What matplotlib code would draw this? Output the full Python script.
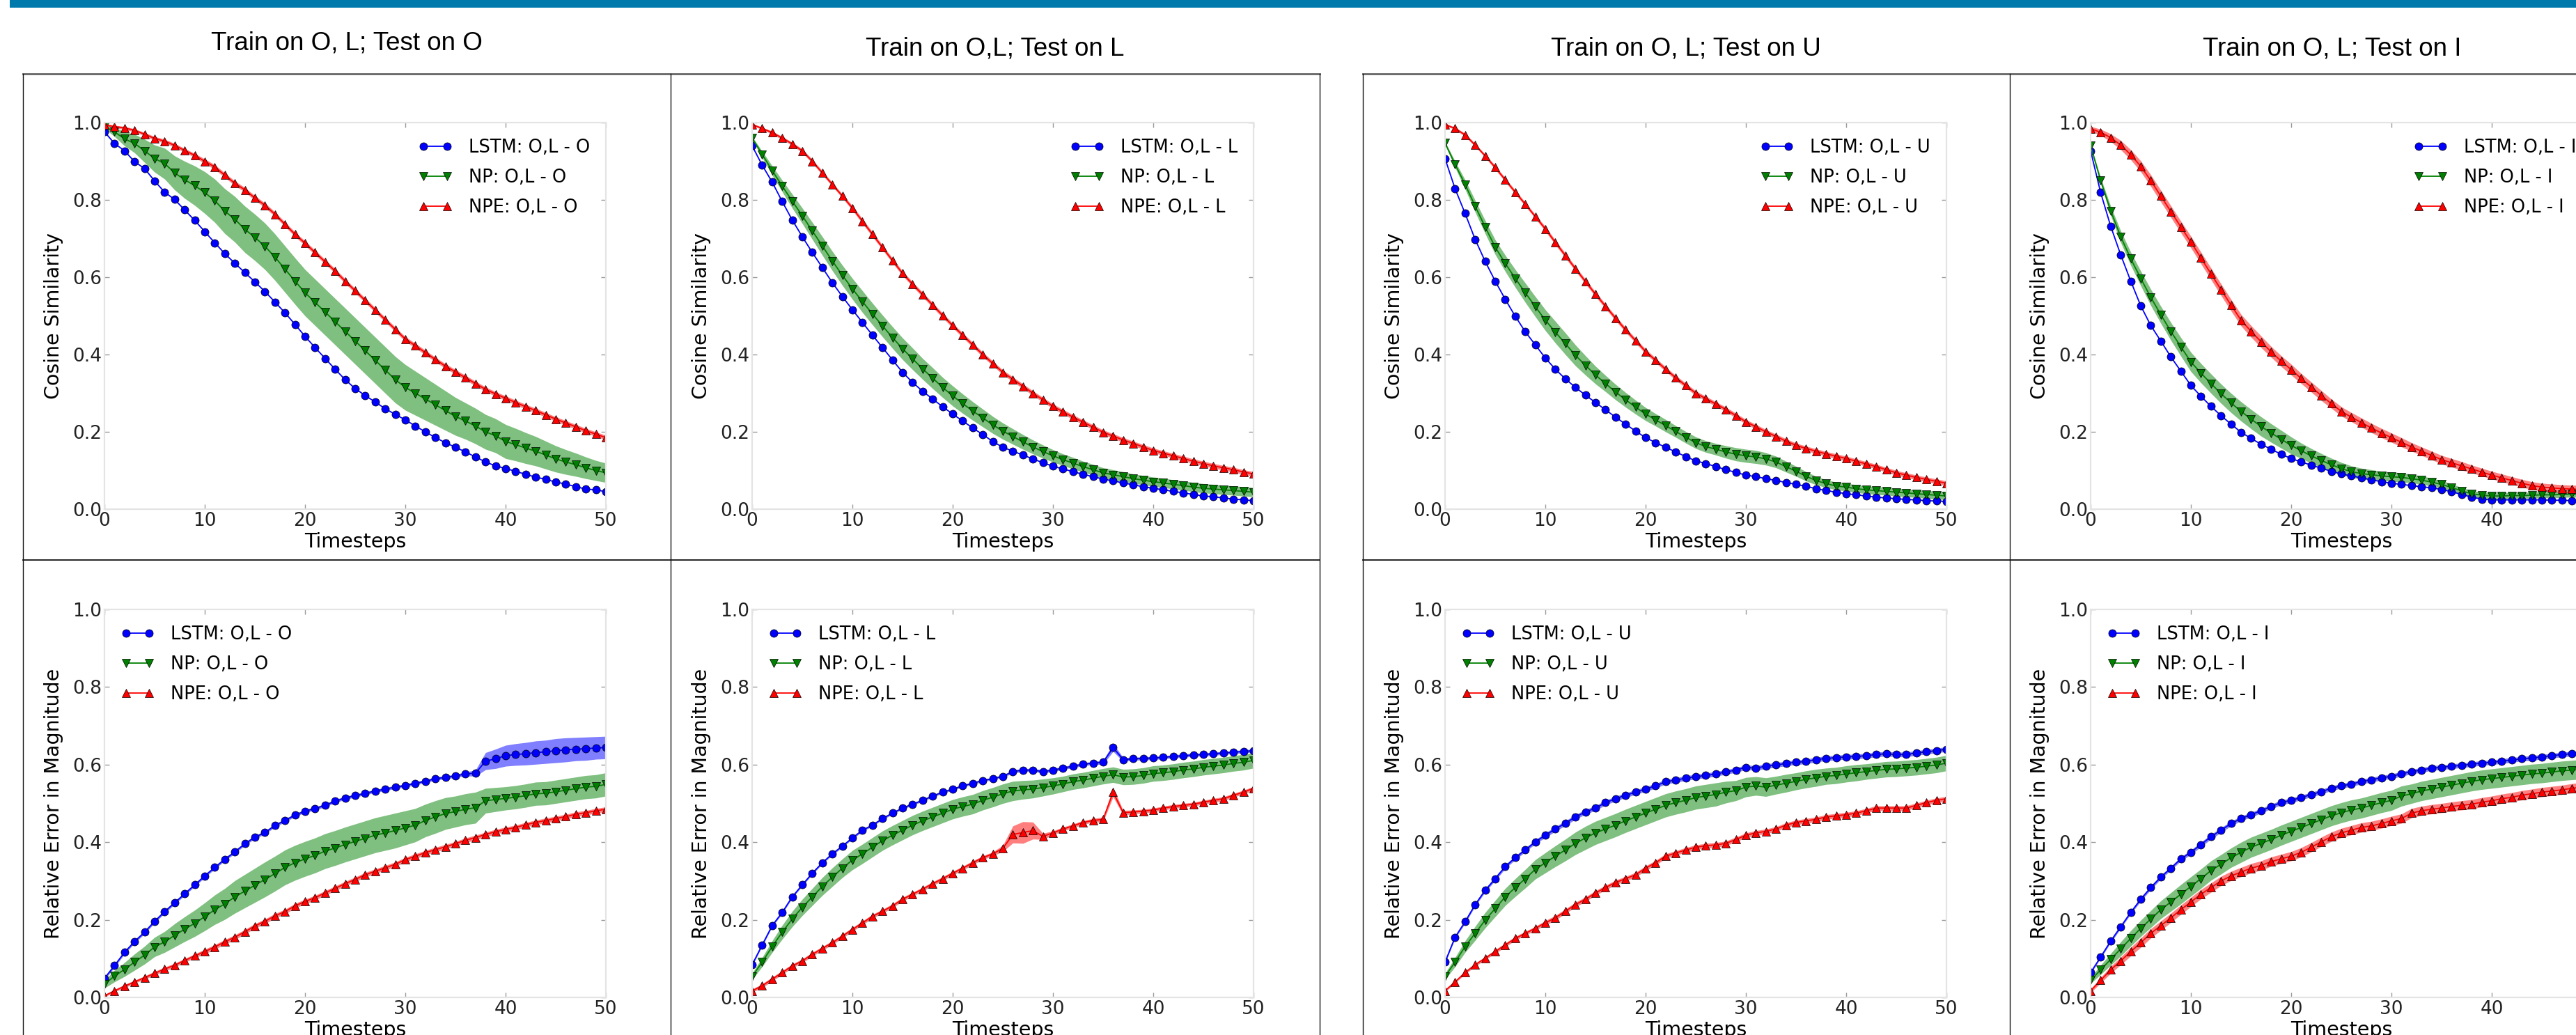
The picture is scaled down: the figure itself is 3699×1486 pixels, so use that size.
import matplotlib
matplotlib.use("Agg")
import matplotlib.pyplot as plt
import numpy as np
from matplotlib.lines import Line2D
from matplotlib.patches import Rectangle

# canvas size in px (dpi 100)
W, H = 3699, 1486

TIMESTEPS = list(range(51))
TEST_SETS = ["O", "L", "U", "I"]
COL_TITLES = [
    "Train on O, L; Test on O",
    "Train on O,L; Test on L",
    "Train on O, L; Test on U",
    "Train on O, L; Test on I",
]
MODELS = ["LSTM", "NP", "NPE"]

# -------------------------
# cosine similarity (top row)
# -------------------------
cos_O_lstm = [.976, .946, .927, .899, .881, .849, .820, .801, .774, .747,
              .718, .689, .661, .636, .612, .588, .563, .536, .508, .478,
              .447, .418, .390, .362, .335, .312, .294, .277, .260, .245,
              .231, .215, .200, .185, .172, .160, .148, .135, .122, .112,
              .105, .098, .090, .083, .077, .070, .065, .058, .052, .050, .045]
cos_O_np = [.990, .976, .958, .946, .927, .907, .894, .870, .852, .837,
            .819, .798, .771, .750, .724, .703, .680, .652, .621, .590,
            .560, .535, .510, .485, .460, .435, .410, .385, .360, .335,
            .315, .300, .285, .270, .255, .240, .228, .215, .200, .190,
            .175, .167, .158, .150, .140, .130, .122, .115, .107, .100, .094]
cos_O_npe = [.994, .990, .986, .980, .970, .959, .952, .941, .928, .915,
             .900, .885, .864, .843, .826, .805, .786, .763, .737, .711,
             .688, .664, .640, .616, .590, .565, .540, .515, .490, .465,
             .440, .423, .405, .387, .370, .355, .340, .325, .310, .298,
             .287, .276, .265, .255, .244, .233, .223, .213, .203, .194, .185]
cos_O_np_err = [.005, .012, .018, .024, .030, .035, .040, .044, .048, .051,
                .054, .056, .058, .059, .060, .060, .060, .060, .060, .060,
                .060, .060, .060, .060, .060, .060, .060, .060, .060, .060,
                .059, .057, .055, .053, .051, .049, .047, .046, .045, .044,
                .044, .042, .040, .038, .036, .034, .032, .030, .028, .026, .025]

cos_L_lstm = [.940, .890, .846, .796, .748, .705, .664, .625, .586, .550,
              .516, .483, .450, .418, .386, .354, .328, .305, .285, .265,
              .246, .228, .210, .193, .175, .160, .150, .140, .130, .120,
              .111, .104, .097, .090, .084, .078, .073, .068, .063, .058,
              .054, .050, .046, .042, .038, .034, .032, .029, .026, .024, .022]
cos_L_np = [.960, .918, .876, .836, .797, .759, .720, .681, .642, .605,
            .570, .537, .505, .474, .444, .415, .389, .363, .339, .315,
            .293, .273, .254, .236, .218, .202, .188, .174, .161, .149,
            .138, .128, .119, .110, .102, .094, .089, .084, .079, .075,
            .071, .068, .064, .061, .057, .054, .052, .050, .048, .046, .044]
cos_L_npe = [.995, .985, .974, .960, .945, .927, .900, .870, .840, .810,
             .779, .745, .711, .677, .643, .610, .582, .555, .528, .501,
             .475, .450, .425, .400, .377, .354, .336, .318, .300, .283,
             .266, .252, .238, .225, .212, .199, .189, .179, .170, .161,
             .152, .145, .138, .131, .124, .118, .112, .107, .102, .096, .091]
cos_L_np_err = [.004, .008, .012, .015, .018, .020, .022, .024, .025, .026,
                .027, .028, .028, .028, .028, .028, .028, .027, .027, .026,
                .026, .025, .024, .023, .022, .021, .020, .019, .018, .017,
                .016, .015, .015, .014, .014, .013, .013, .013, .012, .012,
                .012, .012, .012, .012, .012, .012, .012, .012, .012, .012, .012]

cos_U_lstm = [.907, .829, .765, .698, .641, .590, .543, .499, .459, .425,
              .391, .362, .337, .315, .295, .276, .257, .238, .220, .202,
              .185, .172, .160, .148, .136, .125, .118, .110, .102, .095,
              .088, .084, .079, .074, .069, .064, .059, .053, .048, .044,
              .040, .037, .034, .031, .029, .027, .025, .024, .022, .021, .020]
cos_U_np = [.947, .892, .840, .784, .730, .678, .636, .597, .560, .524,
            .489, .458, .428, .398, .372, .347, .325, .303, .283, .264,
            .246, .231, .216, .201, .186, .172, .162, .155, .148, .142,
            .138, .135, .130, .122, .110, .098, .085, .074, .066, .060,
            .057, .053, .050, .048, .046, .044, .042, .040, .038, .036, .034]
cos_U_npe = [.995, .985, .968, .942, .914, .884, .852, .820, .789, .757,
             .725, .690, .656, .622, .589, .556, .525, .494, .464, .436,
             .408, .385, .362, .340, .320, .300, .286, .272, .258, .242,
             .226, .213, .200, .188, .176, .165, .157, .150, .143, .137,
             .131, .124, .117, .110, .102, .094, .088, .082, .077, .072, .067]
cos_U_np_err = [.004, .008, .012, .015, .017, .019, .021, .023, .025, .026,
                .027, .028, .028, .027, .025, .023, .021, .020, .019, .018,
                .017, .016, .016, .015, .015, .015, .015, .015, .016, .017,
                .017, .017, .016, .015, .014, .013, .012, .011, .010, .010,
                .010, .010, .010, .010, .010, .010, .010, .010, .010, .010, .010]

cos_I_lstm = [.927, .819, .732, .658, .590, .526, .475, .435, .394, .357,
              .320, .292, .266, .242, .220, .199, .183, .168, .155, .142,
              .131, .122, .114, .106, .098, .091, .086, .081, .076, .071,
              .067, .064, .061, .058, .055, .051, .045, .038, .031, .026,
              .024, .024, .024, .024, .024, .024, .023, .023, .022, .022, .022]
cos_I_np = [.940, .850, .772, .705, .648, .597, .548, .503, .460, .420,
            .381, .352, .325, .299, .275, .253, .233, .214, .197, .181,
            .165, .151, .138, .126, .115, .105, .097, .092, .089, .086,
            .084, .082, .079, .075, .070, .064, .056, .047, .040, .036,
            .034, .034, .035, .035, .036, .037, .037, .038, .039, .039, .040]
cos_I_npe = [.984, .975, .961, .942, .917, .887, .850, .810, .770, .730,
             .691, .650, .609, .568, .528, .489, .460, .433, .407, .383,
             .361, .338, .316, .294, .273, .253, .238, .224, .210, .197,
             .185, .173, .161, .150, .139, .128, .120, .112, .104, .096,
             .088, .081, .074, .067, .061, .057, .055, .053, .052, .051, .050]
cos_I_np_err = [.004, .008, .012, .015, .017, .019, .021, .022, .023, .024,
                .025, .025, .025, .025, .025, .025, .025, .025, .024, .023,
                .022, .020, .019, .018, .017, .016, .015, .014, .013, .012,
                .012, .012, .011, .011, .010, .010, .009, .009, .008, .008,
                .008, .008, .008, .008, .008, .008, .008, .008, .008, .008, .008]
cos_I_npe_err = [.006, .008, .010, .012, .013, .014, .015, .015, .015, .015,
                 .015, .015, .015, .015, .015, .015, .015, .015, .014, .014,
                 .014, .013, .013, .013, .012, .012, .012, .012, .012, .012,
                 .012, .012, .011, .011, .011, .011, .011, .011, .010, .010,
                 .010, .010, .010, .010, .010, .010, .010, .010, .010, .010, .010]

# thin band used for the tight curves
NARROW_BAND = [.003, .003, .004, .004, .004, .005, .005, .005, .005, .005,
               .006, .006, .006, .006, .006, .006, .006, .006, .006, .006,
               .006, .006, .006, .006, .006, .006, .006, .006, .006, .006,
               .006, .006, .006, .006, .006, .006, .006, .006, .006, .006,
               .006, .006, .006, .006, .006, .006, .006, .006, .006, .006, .006]

# -------------------------
# relative error in magnitude (bottom row)
# -------------------------
mag_O_lstm = [.049, .082, .116, .144, .168, .196, .221, .244, .267, .290,
              .313, .335, .356, .375, .396, .413, .425, .443, .456, .470,
              .480, .487, .495, .506, .514, .520, .526, .532, .537, .542,
              .546, .552, .557, .564, .567, .571, .576, .578, .609, .615,
              .623, .626, .628, .631, .633, .636, .638, .640, .641, .643, .644]
mag_O_np = [.034, .055, .072, .091, .109, .130, .143, .160, .176, .191,
            .208, .226, .241, .259, .274, .289, .304, .319, .335, .347,
            .357, .366, .377, .385, .394, .402, .410, .418, .424, .430,
            .437, .444, .456, .465, .474, .479, .485, .489, .507, .510,
            .513, .516, .520, .525, .526, .530, .534, .538, .542, .544, .549]
mag_O_npe = [.004, .017, .029, .040, .051, .062, .073, .083, .095, .107,
             .118, .130, .143, .155, .169, .184, .196, .210, .221, .236,
             .247, .257, .269, .281, .293, .304, .316, .325, .334, .343,
             .355, .364, .373, .381, .388, .396, .405, .412, .420, .427,
             .433, .438, .445, .451, .456, .461, .466, .472, .476, .481, .485]
mag_O_lstm_err = [.004, .004, .004, .004, .004, .004, .004, .004, .004, .004,
                  .004, .004, .004, .004, .004, .004, .004, .004, .004, .004,
                  .004, .004, .004, .004, .004, .004, .004, .004, .004, .004,
                  .004, .004, .004, .004, .004, .004, .005, .008, .022, .025,
                  .027, .028, .029, .030, .030, .031, .031, .030, .030, .029, .029]
mag_O_np_err = [.010, .015, .018, .021, .023, .025, .027, .030, .032, .034,
                .036, .038, .040, .042, .043, .044, .045, .045, .045, .045,
                .045, .045, .045, .045, .045, .045, .045, .045, .045, .045,
                .044, .043, .042, .042, .041, .040, .040, .040, .032, .031,
                .030, .030, .030, .030, .030, .030, .030, .030, .030, .030, .030]

mag_L_lstm = [.084, .135, .185, .219, .259, .290, .320, .347, .370, .390,
              .411, .431, .444, .461, .475, .488, .498, .508, .519, .529,
              .537, .545, .552, .559, .564, .570, .582, .586, .586, .582,
              .586, .591, .596, .601, .604, .606, .644, .613, .615, .616,
              .617, .619, .621, .623, .625, .626, .628, .630, .632, .634, .636]
mag_L_np = [.054, .091, .131, .168, .202, .232, .259, .286, .310, .333,
            .354, .370, .387, .404, .418, .431, .444, .455, .465, .475,
            .485, .492, .498, .508, .516, .525, .532, .535, .537, .541,
            .545, .550, .556, .560, .565, .570, .574, .568, .569, .572,
            .577, .579, .582, .586, .589, .593, .596, .599, .603, .606, .611]
mag_L_npe = [.017, .030, .047, .064, .081, .094, .111, .126, .141, .158,
             .175, .192, .209, .222, .236, .253, .266, .279, .293, .306,
             .320, .333, .347, .360, .370, .384, .420, .425, .430, .415,
             .424, .434, .442, .451, .456, .459, .529, .476, .478, .480,
             .483, .488, .492, .495, .498, .503, .508, .512, .521, .529, .539]
mag_L_lstm_err = [.003, .003, .003, .003, .003, .003, .003, .003, .003, .003,
                  .003, .003, .003, .003, .003, .003, .003, .003, .003, .003,
                  .003, .003, .003, .003, .003, .003, .004, .004, .004, .004,
                  .004, .004, .004, .004, .004, .005, .010, .005, .004, .004,
                  .004, .004, .004, .004, .004, .004, .004, .004, .004, .004, .004]
mag_L_np_err = [.008, .012, .015, .018, .020, .021, .022, .023, .024, .024,
                .025, .025, .025, .025, .025, .025, .025, .025, .025, .025,
                .025, .025, .025, .025, .025, .025, .025, .024, .023, .022,
                .021, .020, .020, .020, .020, .020, .020, .020, .020, .020,
                .020, .020, .020, .020, .020, .020, .020, .020, .020, .020, .020]
mag_L_npe_err = [.004, .005, .005, .005, .005, .005, .005, .005, .005, .005,
                 .005, .005, .005, .005, .005, .005, .005, .005, .005, .005,
                 .005, .005, .005, .005, .005, .008, .022, .028, .022, .008,
                 .005, .005, .005, .005, .005, .006, .012, .006, .005, .005,
                 .005, .005, .005, .005, .005, .005, .005, .005, .005, .005, .005]

mag_U_lstm = [.091, .155, .195, .239, .276, .306, .337, .360, .380, .401,
              .418, .434, .449, .465, .478, .488, .502, .512, .521, .529,
              .537, .545, .556, .560, .565, .569, .572, .576, .581, .586,
              .593, .591, .596, .599, .603, .606, .608, .613, .616, .618,
              .620, .621, .623, .626, .628, .626, .626, .630, .633, .636, .640]
mag_U_np = [.054, .091, .131, .165, .199, .229, .259, .283, .306, .330,
            .347, .364, .380, .397, .411, .424, .434, .444, .455, .465,
            .475, .485, .495, .502, .508, .515, .519, .523, .529, .533,
            .542, .545, .542, .547, .552, .557, .562, .566, .570, .572,
            .576, .579, .582, .585, .588, .589, .591, .593, .596, .599, .604]
mag_U_npe = [.017, .040, .064, .084, .101, .118, .135, .152, .165, .178,
             .192, .205, .222, .239, .253, .269, .283, .296, .306, .316,
             .333, .347, .364, .372, .380, .387, .391, .393, .397, .407,
             .418, .424, .428, .434, .444, .451, .455, .459, .465, .468,
             .471, .475, .481, .488, .488, .488, .488, .495, .502, .508, .512]
mag_U_np_err = [.008, .012, .015, .018, .020, .021, .022, .023, .024, .025,
                .026, .027, .028, .029, .030, .030, .030, .030, .030, .030,
                .030, .030, .030, .030, .030, .030, .030, .030, .028, .026,
                .025, .024, .024, .023, .023, .022, .022, .022, .021, .021,
                .021, .021, .020, .020, .020, .020, .020, .020, .020, .020, .020]

mag_I_lstm = [.064, .104, .145, .182, .219, .253, .283, .310, .333, .357,
              .374, .394, .414, .431, .448, .461, .471, .481, .492, .502,
              .508, .515, .523, .530, .539, .545, .550, .556, .561, .566,
              .570, .576, .582, .586, .591, .593, .596, .598, .601, .604,
              .606, .609, .612, .615, .617, .620, .623, .626, .628, .630, .631]
mag_I_np = [.044, .071, .098, .125, .152, .178, .202, .226, .246, .266,
            .286, .306, .327, .343, .360, .374, .387, .397, .407, .418,
            .428, .438, .448, .458, .468, .476, .483, .488, .495, .502,
            .508, .519, .525, .532, .537, .542, .547, .552, .557, .561,
            .564, .567, .570, .573, .576, .578, .581, .584, .586, .588, .589]
mag_I_npe = [.017, .044, .071, .094, .118, .141, .165, .185, .205, .226,
             .246, .266, .283, .300, .313, .323, .333, .340, .350, .357,
             .364, .374, .387, .401, .414, .424, .431, .438, .442, .448,
             .455, .461, .475, .481, .485, .488, .492, .495, .498, .503,
             .507, .512, .516, .521, .525, .529, .532, .535, .539, .542, .544]
mag_I_np_err = [.008, .012, .015, .018, .020, .021, .022, .023, .024, .025,
                .025, .025, .025, .025, .025, .026, .026, .026, .026, .026,
                .026, .026, .026, .026, .026, .026, .026, .026, .026, .026,
                .026, .026, .025, .025, .025, .025, .025, .025, .025, .025,
                .025, .025, .025, .025, .025, .025, .025, .025, .025, .025, .025]
mag_I_npe_err = [.005, .007, .009, .010, .011, .012, .012, .012, .012, .012,
                 .012, .012, .012, .012, .012, .012, .012, .012, .012, .012,
                 .012, .012, .012, .012, .012, .012, .012, .012, .012, .012,
                 .012, .012, .012, .012, .012, .012, .012, .012, .012, .012,
                 .012, .012, .012, .012, .012, .012, .012, .012, .012, .012, .012]

COS_SERIES = [
    ([cos_O_lstm, cos_O_np, cos_O_npe], [None, cos_O_np_err, NARROW_BAND]),
    ([cos_L_lstm, cos_L_np, cos_L_npe], [None, cos_L_np_err, NARROW_BAND]),
    ([cos_U_lstm, cos_U_np, cos_U_npe], [None, cos_U_np_err, NARROW_BAND]),
    ([cos_I_lstm, cos_I_np, cos_I_npe], [None, cos_I_np_err, cos_I_npe_err]),
]
MAG_SERIES = [
    ([mag_O_lstm, mag_O_np, mag_O_npe], [mag_O_lstm_err, mag_O_np_err, NARROW_BAND]),
    ([mag_L_lstm, mag_L_np, mag_L_npe], [mag_L_lstm_err, mag_L_np_err, mag_L_npe_err]),
    ([mag_U_lstm, mag_U_np, mag_U_npe], [NARROW_BAND, mag_U_np_err, NARROW_BAND]),
    ([mag_I_lstm, mag_I_np, mag_I_npe], [NARROW_BAND, mag_I_np_err, mag_I_npe_err]),
]

COLORS = ["#0000ff", "#008000", "#ff0000"]
MARKERS = ["o", "v", "^"]

# layout, in pixels of the final image
AX_LEFT = [150, 1080, 2075, 3002]
AX_WIDTH = 720
TOP_ROW = (176, 731)   # y of 1.0 and 0.0
BOT_ROW = (875, 1432)
TITLE_POS = [(498, 62), (1429, 70), (2421, 70), (3349, 70)]
BOX_TOP = 106
ROW_SPLIT = 804
BOXES = [(33, 963, 1895), (1957, 2886, 3830)]


def fig_x(px):
    return px / W


def fig_y(py):
    return 1 - py / H


def draw_panel(ax, series, errs, test, ylabel, legend_loc):
    t = np.asarray(TIMESTEPS)
    for name, color, marker, y, e in zip(MODELS, COLORS, MARKERS, series, errs):
        y = np.asarray(y, float)
        if e is not None:
            e = np.asarray(e, float)
            ax.fill_between(t, y - e, y + e, color=color, alpha=0.5, lw=0)
        ax.plot(t, y, color=color, marker=marker, ms=8, mec="k", mew=0.5,
                lw=1.3, label=f"{name}: O,L - {test}")

    ax.set_xlim(0, 50)
    ax.set_ylim(0, 1)
    ax.set_xticks([0, 10, 20, 30, 40, 50])
    ax.set_yticks([0.0, 0.2, 0.4, 0.6, 0.8, 1.0])
    for s in ax.spines.values():
        s.set_color("#e4e4e4")
        s.set_linewidth(1.6)
    ax.tick_params(direction="in", length=5, width=1, color="#9a9a9a",
                   labelcolor="#222222", labelsize=19, pad=3,
                   top=True, right=True)
    ax.set_xlabel("Timesteps", fontsize=20.5, labelpad=2)
    ax.set_ylabel(ylabel, fontsize=20.5, labelpad=9)
    ax.legend(loc=legend_loc, frameon=False, numpoints=2, fontsize=18.5,
              handlelength=1.9, handletextpad=0.9, labelspacing=0.65)


fig = plt.figure(figsize=(W / 100, H / 100), dpi=100)

# header bar
fig.add_artist(Rectangle((fig_x(14), fig_y(11)), 1, 11 / H,
                         transform=fig.transFigure, color="#0079ad", lw=0))

# frames around the two image pairs
for left, mid, right in BOXES:
    fig.add_artist(Line2D([fig_x(left), fig_x(right)], [fig_y(BOX_TOP)] * 2,
                          transform=fig.transFigure, color="#666666", lw=2.0))
    fig.add_artist(Line2D([fig_x(left), fig_x(right)], [fig_y(ROW_SPLIT)] * 2,
                          transform=fig.transFigure, color="#111111", lw=1.3))
    for xv in (left, mid, right):
        fig.add_artist(Line2D([fig_x(xv)] * 2, [fig_y(BOX_TOP), 0],
                              transform=fig.transFigure, color="#111111", lw=1.0))

for (tx, ty), title in zip(TITLE_POS, COL_TITLES):
    fig.text(fig_x(tx), fig_y(ty), title, ha="center", va="center",
             fontsize=26.5, family=["Liberation Sans", "DejaVu Sans"])

for i, test in enumerate(TEST_SETS):
    top, bottom = TOP_ROW
    ax = fig.add_axes([fig_x(AX_LEFT[i]), fig_y(bottom), AX_WIDTH / W, (bottom - top) / H])
    series, errs = COS_SERIES[i]
    draw_panel(ax, series, errs, test, "Cosine Similarity", "upper right")

    top, bottom = BOT_ROW
    ax = fig.add_axes([fig_x(AX_LEFT[i]), fig_y(bottom), AX_WIDTH / W, (bottom - top) / H])
    series, errs = MAG_SERIES[i]
    draw_panel(ax, series, errs, test, "Relative Error in Magnitude", "upper left")

fig.savefig("out.png", dpi=100)
